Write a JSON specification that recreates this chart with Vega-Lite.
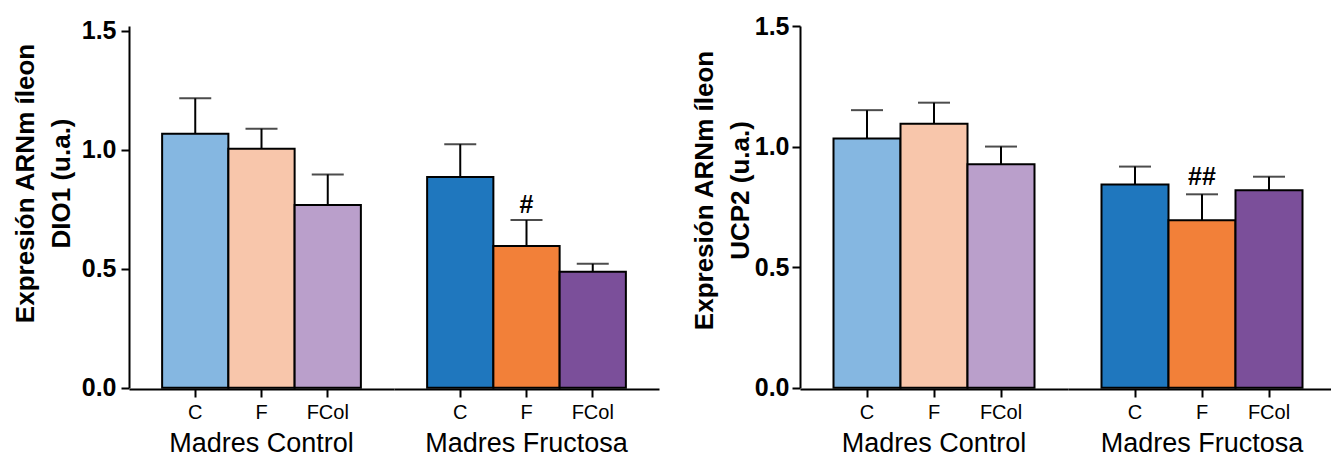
{
  "$schema": "https://vega.github.io/schema/vega-lite/v6.json",
  "padding": {"left": 12, "top": 14, "right": 0, "bottom": 0},
  "background": "white",
  "config": {
    "font": "Liberation Sans",
    "view": {"stroke": null},
    "axis": {"domainColor": "black", "domainWidth": 2, "tickColor": "black", "tickWidth": 2, "labelColor": "black", "titleColor": "black", "grid": false},
    "header": {"labelColor": "black"}
  },
  "datasets": {
    "dio1": [
      {"madre": "Madres Control", "grupo": "C", "serie": "Control C", "media": 1.068, "sup": 1.217, "sig": ""},
      {"madre": "Madres Control", "grupo": "F", "serie": "Control F", "media": 1.005, "sup": 1.089, "sig": ""},
      {"madre": "Madres Control", "grupo": "FCol", "serie": "Control FCol", "media": 0.768, "sup": 0.897, "sig": ""},
      {"madre": "Madres Fructosa", "grupo": "C", "serie": "Fructosa C", "media": 0.886, "sup": 1.024, "sig": ""},
      {"madre": "Madres Fructosa", "grupo": "F", "serie": "Fructosa F", "media": 0.596, "sup": 0.705, "sig": "#"},
      {"madre": "Madres Fructosa", "grupo": "FCol", "serie": "Fructosa FCol", "media": 0.488, "sup": 0.521, "sig": ""}
    ],
    "ucp2": [
      {"madre": "Madres Control", "grupo": "C", "serie": "Control C", "media": 1.033, "sup": 1.151, "sig": ""},
      {"madre": "Madres Control", "grupo": "F", "serie": "Control F", "media": 1.095, "sup": 1.182, "sig": ""},
      {"madre": "Madres Control", "grupo": "FCol", "serie": "Control FCol", "media": 0.927, "sup": 1.0, "sig": ""},
      {"madre": "Madres Fructosa", "grupo": "C", "serie": "Fructosa C", "media": 0.843, "sup": 0.917, "sig": ""},
      {"madre": "Madres Fructosa", "grupo": "F", "serie": "Fructosa F", "media": 0.694, "sup": 0.802, "sig": "##"},
      {"madre": "Madres Fructosa", "grupo": "FCol", "serie": "Fructosa FCol", "media": 0.819, "sup": 0.875, "sig": ""}
    ]
  },
  "spacing": 32,
  "hconcat": [
    {
      "data": {"name": "dio1"},
      "facet": {"column": {"field": "madre", "type": "nominal", "sort": ["Madres Control", "Madres Fructosa"],
        "header": {"title": null, "labelOrient": "bottom", "labelFontSize": 27, "labelPadding": 9, "labelFont": "Liberation Sans"}}},
      "spacing": 0,
      "spec": {
        "width": 265,
        "height": 361.7,
        "encoding": {
          "x": {"field": "grupo", "type": "nominal", "sort": ["C", "F", "FCol"],
            "scale": {"paddingInner": 0, "paddingOuter": 0.5},
            "axis": {"title": null, "labelAngle": 0, "labelFontSize": 20, "labelPadding": 5, "tickSize": 8, "domainWidth": 2}}
        },
        "layer": [
          {
            "mark": {"type": "rule", "color": "black", "strokeWidth": 2},
            "encoding": {
              "y": {"field": "media", "type": "quantitative"},
              "y2": {"field": "sup"}
            }
          },
          {
            "mark": {"type": "tick", "color": "black", "thickness": 2, "size": 32, "orient": "horizontal"},
            "encoding": {"y": {"field": "sup", "type": "quantitative"}}
          },
          {
            "mark": {"type": "bar", "stroke": "black", "strokeWidth": 2, "width": {"band": 1}},
            "encoding": {
              "y": {"field": "media", "type": "quantitative",
                "scale": {"domain": [0, 1.521], "nice": false},
                "axis": {"title": ["Expresión ARNm íleon", "DIO1 (u.a.)"], "titleFontSize": 26, "titleFontWeight": "bold", "titleLineHeight": 36, "titlePadding": 7, "titleY": 157,
                  "values": [0, 0.5, 1, 1.5], "format": ".1f", "labelFontSize": 25, "labelFontWeight": "bold", "labelPadding": 5, "tickSize": 8}},
              "color": {"field": "serie", "type": "nominal", "legend": null,
                "scale": {"domain": ["Control C", "Control F", "Control FCol", "Fructosa C", "Fructosa F", "Fructosa FCol"],
                  "range": ["#85B7E1", "#F8C6AB", "#BA9FCB", "#1F77BE", "#F28039", "#7B4F9A"]}}
            }
          },
          {
            "transform": [{"filter": "datum.sig != ''"}],
            "mark": {"type": "text", "fontSize": 25, "fontWeight": "bold", "color": "black", "baseline": "middle", "dy": -15},
            "encoding": {"y": {"field": "sup", "type": "quantitative"}, "text": {"field": "sig"}}
          }
        ]
      }
    },
    {
      "data": {"name": "ucp2"},
      "facet": {"column": {"field": "madre", "type": "nominal", "sort": ["Madres Control", "Madres Fructosa"],
        "header": {"title": null, "labelOrient": "bottom", "labelFontSize": 27, "labelPadding": 9, "labelFont": "Liberation Sans"}}},
      "spacing": 0,
      "spec": {
        "width": 268,
        "height": 361.7,
        "encoding": {
          "x": {"field": "grupo", "type": "nominal", "sort": ["C", "F", "FCol"],
            "scale": {"paddingInner": 0, "paddingOuter": 0.5},
            "axis": {"title": null, "labelAngle": 0, "labelFontSize": 20, "labelPadding": 5, "tickSize": 8, "domainWidth": 2}}
        },
        "layer": [
          {
            "mark": {"type": "rule", "color": "black", "strokeWidth": 2},
            "encoding": {
              "y": {"field": "media", "type": "quantitative"},
              "y2": {"field": "sup"}
            }
          },
          {
            "mark": {"type": "tick", "color": "black", "thickness": 2, "size": 32, "orient": "horizontal"},
            "encoding": {"y": {"field": "sup", "type": "quantitative"}}
          },
          {
            "mark": {"type": "bar", "stroke": "black", "strokeWidth": 2, "width": {"band": 1}},
            "encoding": {
              "y": {"field": "media", "type": "quantitative",
                "scale": {"domain": [0, 1.5], "nice": false},
                "axis": {"title": ["Expresión ARNm íleon", "UCP2 (u.a.)"], "titleFontSize": 26, "titleFontWeight": "bold", "titleLineHeight": 36, "titlePadding": 1, "titleY": 164,
                  "values": [0, 0.5, 1, 1.5], "format": ".1f", "labelFontSize": 25, "labelFontWeight": "bold", "labelPadding": 3, "tickSize": 8}},
              "color": {"field": "serie", "type": "nominal", "legend": null,
                "scale": {"domain": ["Control C", "Control F", "Control FCol", "Fructosa C", "Fructosa F", "Fructosa FCol"],
                  "range": ["#85B7E1", "#F8C6AB", "#BA9FCB", "#1F77BE", "#F28039", "#7B4F9A"]}}
            }
          },
          {
            "transform": [{"filter": "datum.sig != ''"}],
            "mark": {"type": "text", "fontSize": 25, "fontWeight": "bold", "color": "black", "baseline": "middle", "dy": -17},
            "encoding": {"y": {"field": "sup", "type": "quantitative"}, "text": {"field": "sig"}}
          }
        ]
      }
    }
  ]
}
